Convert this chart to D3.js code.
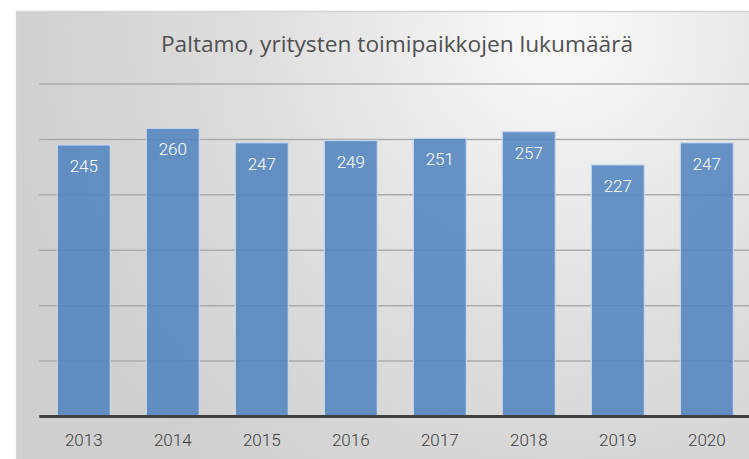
<!DOCTYPE html>
<html>
<head>
<meta charset="utf-8">
<script src="https://cdn.jsdelivr.net/npm/d3@7"></script>
<style>
  body { margin: 0; background: #fff; }
  svg { display: block; }
</style>
</head>
<body>
<div id="chart"></div>
<script>
// data
const years = ["2013", "2014", "2015", "2016", "2017", "2018", "2019", "2020"];
const counts = [245, 260, 247, 249, 251, 257, 227, 247];
const yTicks = [0, 50, 100, 150, 200, 250, 300];
const title = "Paltamo, yritysten toimipaikkojen lukumäärä";

const W = 749, H = 459;
const frame = {x: 16, y: 11, w: 762, h: 460};
const plot = {l: 39.3, r: 751.3, t: 84, b: 416.5};

const svg = d3.select("#chart").append("svg")
    .attr("width", W)
    .attr("height", H);

const defs = svg.append("defs");
const bg = defs.append("radialGradient")
    .attr("id", "bg")
    .attr("gradientUnits", "userSpaceOnUse")
    .attr("cx", 560).attr("cy", 30).attr("r", 560);
bg.append("stop").attr("offset", "0").attr("stop-color", "#fafafa");
bg.append("stop").attr("offset", "0.55").attr("stop-color", "#dedede");
bg.append("stop").attr("offset", "1").attr("stop-color", "#cfcfcf");

svg.append("rect")
    .attr("x", frame.x + 0.5).attr("y", frame.y + 0.5)
    .attr("width", frame.w).attr("height", frame.h)
    .attr("fill", "url(#bg)")
    .attr("stroke", "#d4d4d4")
    .attr("stroke-width", 1.5);

const x = d3.scaleBand()
    .domain(years)
    .range([plot.l, plot.r])
    .paddingInner(0.4045)
    .paddingOuter(0.202);

const y = d3.scaleLinear()
    .domain([0, 300])
    .range([plot.b, plot.t]);

// gridlines
svg.append("g")
    .attr("class", "grid")
    .selectAll("line")
    .data(yTicks.filter((d) => d > 0))
    .join("line")
    .attr("x1", plot.l)
    .attr("x2", W)
    .attr("y1", (d) => y(d))
    .attr("y2", (d) => y(d))
    .attr("stroke", "#ababab")
    .attr("stroke-width", 1.5);

// bars
const data = years.map((d, i) => ({year: d, value: counts[i]}));

svg.append("g")
    .attr("class", "bars")
    .selectAll("rect")
    .data(data)
    .join("rect")
    .attr("x", (d) => x(d.year))
    .attr("y", (d) => y(d.value))
    .attr("width", x.bandwidth())
    .attr("height", (d) => plot.b - y(d.value))
    .attr("fill", "#4f81bd")
    .attr("fill-opacity", 0.85)
    .attr("stroke", "#c9d8ec")
    .attr("stroke-width", 1.2);

// value labels
svg.append("g")
    .attr("class", "labels")
    .selectAll("text")
    .data(data)
    .join("text")
    .attr("x", (d) => x(d.year) + x.bandwidth() / 2)
    .attr("y", (d) => y(d.value) + 27)
    .attr("text-anchor", "middle")
    .attr("font-family", "Roboto, sans-serif")
    .attr("font-weight", 300)
    .attr("font-size", 17)
    .attr("fill", "#ffffff")
    .text((d) => d.value);

// x axis
const xAxis = svg.append("g")
    .attr("transform", `translate(0,${plot.b})`)
    .call(d3.axisBottom(x).tickSize(0).tickPadding(17));
xAxis.select(".domain").remove();
xAxis.selectAll("text")
    .attr("font-family", "Roboto, sans-serif")
    .attr("font-weight", 300)
    .attr("font-size", 17)
    .attr("fill", "#404040");

// baseline
svg.append("line")
    .attr("x1", plot.l)
    .attr("x2", W)
    .attr("y1", y(0))
    .attr("y2", y(0))
    .attr("stroke", "#404040")
    .attr("stroke-width", 3);

// title
svg.append("text")
    .attr("x", 397)
    .attr("y", 52)
    .attr("text-anchor", "middle")
    .attr("font-family", "'Open Sans', sans-serif")
    .attr("font-size", 22.7)
    .attr("fill", "#505050")
    .text(title);
</script>
</body>
</html>
